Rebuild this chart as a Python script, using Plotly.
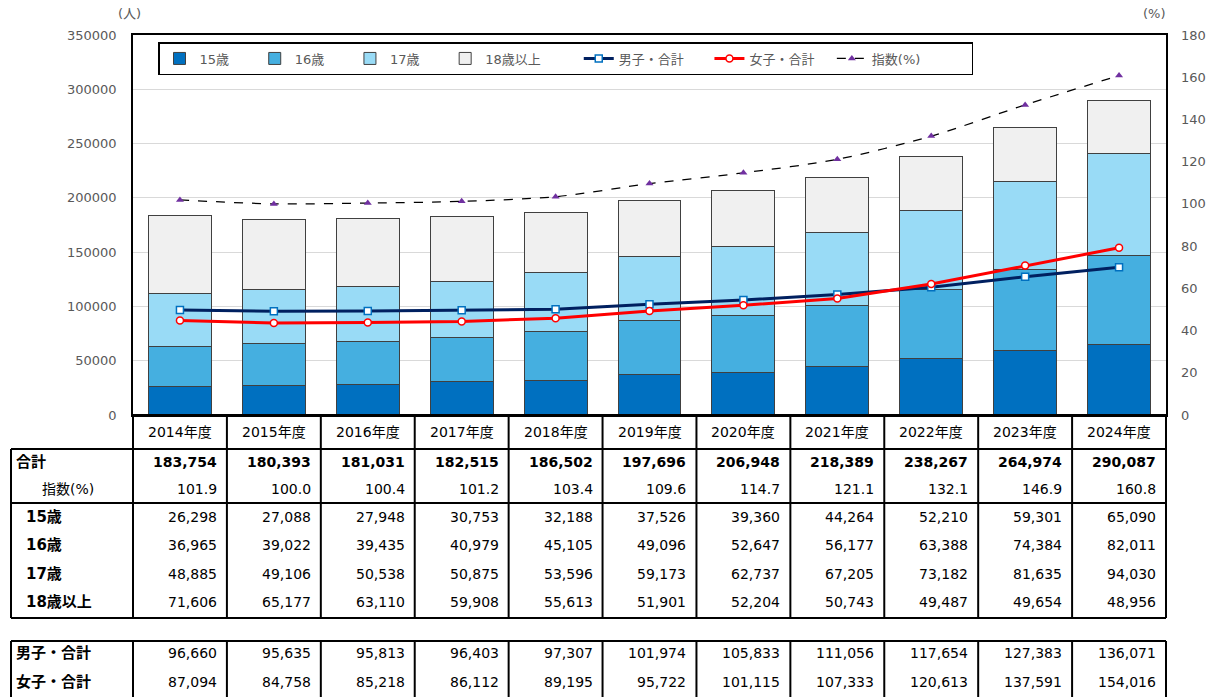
import plotly.graph_objects as go

years = ["2014年度", "2015年度", "2016年度", "2017年度", "2018年度", "2019年度",
         "2020年度", "2021年度", "2022年度", "2023年度", "2024年度"]
total = [183754, 180393, 181031, 182515, 186502, 197696, 206948, 218389, 238267, 264974, 290087]
index_pct = [101.9, 100.0, 100.4, 101.2, 103.4, 109.6, 114.7, 121.1, 132.1, 146.9, 160.8]
age15 = [26298, 27088, 27948, 30753, 32188, 37526, 39360, 44264, 52210, 59301, 65090]
age16 = [36965, 39022, 39435, 40979, 45105, 49096, 52647, 56177, 63388, 74384, 82011]
age17 = [48885, 49106, 50538, 50875, 53596, 59173, 62737, 67205, 73182, 81635, 94030]
age18 = [71606, 65177, 63110, 59908, 55613, 51901, 52204, 50743, 49487, 49654, 48956]
male = [96660, 95635, 95813, 96403, 97307, 101974, 105833, 111056, 117654, 127383, 136071]
female = [87094, 84758, 85218, 86112, 89195, 95722, 101115, 107333, 120613, 137591, 154016]

series_names = ["15歳", "16歳", "17歳", "18歳以上"]
series_vals = [age15, age16, age17, age18]
series_cols = ["#0070C0", "#45AFE0", "#99DBF6", "#F0F0F0"]

FONT = "Verdana, 'DejaVu Sans', 'Noto Sans CJK JP', sans-serif"
W, H = 1209, 697
L, R, T, B = 133, 1166, 35, 415  # pixel coordinates of the plot area


def px(p):
    return (p - L) / (R - L)


def py(p):
    return (B - p) / (B - T)


NB = "\u00a0"
pads = [5, 5, 5, 8, 5, 3, 11]
fig = go.Figure()
for k, (name, vals, col) in enumerate(zip(series_names, series_vals, series_cols)):
    fig.add_trace(go.Bar(x=years, y=vals, name=name + NB * pads[k],
                         marker=dict(color=col, line=dict(color="#404040", width=1))))

fig.add_trace(go.Scatter(x=years, y=male, name="男子・合計" + NB * pads[4], mode="lines+markers",
                         line=dict(color="#002060", width=3),
                         marker=dict(symbol="square", size=7, color="white", line=dict(color="#0070C0", width=1.5))))
fig.add_trace(go.Scatter(x=years, y=female, name="女子・合計" + NB * pads[5], mode="lines+markers",
                         line=dict(color="#FF0000", width=3),
                         marker=dict(symbol="circle", size=7, color="white", line=dict(color="#FF0000", width=1.5))))
fig.add_trace(go.Scatter(x=years, y=index_pct, name="指数(%)" + NB * pads[6], mode="lines+markers", yaxis="y2",
                         line=dict(color="black", width=1.25, dash="dash", shape="spline", smoothing=0.8),
                         marker=dict(symbol="triangle-up", size=7, color="#7030A0")))

shapes = []


def hline(y, x0, x1):
    shapes.append(dict(type="line", xref="paper", yref="paper", x0=x0, x1=x1, y0=py(y), y1=py(y),
                       line=dict(color="black", width=2)))


def vline(x, y0, y1):
    shapes.append(dict(type="line", xref="paper", yref="paper", x0=x, x1=x, y0=py(y0), y1=py(y1),
                       line=dict(color="black", width=2)))


n = len(years)
for i in range(n + 1):
    vline(i / n, 415, 618)
    vline(i / n, 641, 705)
vline(px(11), 449, 618)
vline(px(11), 641, 705)
hline(415, 0, 1)
for yy in (449, 503, 618, 641):
    hline(yy, px(11), 1)

ann = []


def text(x, y, s, anchor="center", size=14, bold=False, color="black", yanchor="middle"):
    ann.append(dict(xref="paper", yref="paper", x=x, y=py(y), text=("<b>%s</b>" % s) if bold else s,
                    showarrow=False, xanchor=anchor, yanchor=yanchor,
                    font=dict(family=FONT, size=size, color=color)))


colw = 1.0 / n
pad = 8 / (R - L)
for i, yr in enumerate(years):
    text((i + 0.5) * colw, 432, yr)
    right = (i + 1) * colw - pad
    text(right, 462, f"{total[i]:,}", "right", bold=True)
    text(right, 489, f"{index_pct[i]:.1f}", "right")
    text(right, 517, f"{age15[i]:,}", "right")
    text(right, 545, f"{age16[i]:,}", "right")
    text(right, 574, f"{age17[i]:,}", "right")
    text(right, 602, f"{age18[i]:,}", "right")
    text(right, 653, f"{male[i]:,}", "right")
    text(right, 682, f"{female[i]:,}", "right")

text(px(14), 462, "合計", "left", size=15, bold=True)
text(px(68), 489, "指数(%)", "center", size=14)
text(px(24), 517, "15歳", "left", size=15, bold=True)
text(px(24), 545, "16歳", "left", size=15, bold=True)
text(px(24), 574, "17歳", "left", size=15, bold=True)
text(px(24), 602, "18歳以上", "left", size=15, bold=True)
text(px(14), 653, "男子・合計", "left", size=15, bold=True)
text(px(14), 682, "女子・合計", "left", size=15, bold=True)
text(px(129), 14, "(人)", "center", size=13, color="#595959")
text(px(1154), 14, "(%)", "center", size=13, color="#595959")

fig.update_layout(
    width=W, height=H,
    margin=dict(l=L, r=W - R, t=T, b=H - B, autoexpand=False),
    paper_bgcolor="white", plot_bgcolor="white",
    barmode="stack", bargap=0.33,
    font=dict(family=FONT, size=13, color="#595959"),
    showlegend=True,
    legend=dict(orientation="h", x=px(158), y=py(58.5), xanchor="left", yanchor="middle",
                bgcolor="white", bordercolor="black", borderwidth=1.5,
                font=dict(family=FONT, size=13, color="#595959"), traceorder="normal"),
    xaxis=dict(type="category", range=[-0.5, n - 0.5], showticklabels=False, ticks="",
               showline=True, mirror=True, linecolor="black", linewidth=1.5, showgrid=False,
               automargin=False),
    yaxis=dict(range=[0, 350000], dtick=50000, tickformat="d", showgrid=True, gridcolor="#D9D9D9",
               zeroline=False, showline=True, mirror=True, linecolor="black", linewidth=1.5,
               ticks="", ticklabelstandoff=12, tickfont=dict(size=13, color="#595959"),
               automargin=False),
    yaxis2=dict(range=[0, 180], dtick=20, overlaying="y", side="right", showgrid=False,
                zeroline=False, showline=False, ticks="", ticklabelstandoff=14,
                tickfont=dict(size=13, color="#595959"), automargin=False),
    shapes=shapes, annotations=ann,
)

# remove the page's default body margin so the figure fills the window exactly
fig.write_html("out.html", config={"displayModeBar": False},
               post_script="document.body.style.margin='0';")
